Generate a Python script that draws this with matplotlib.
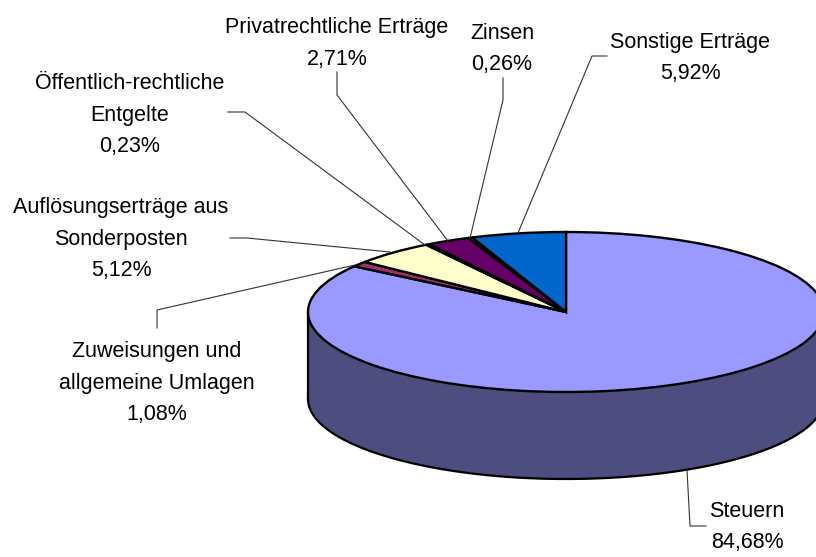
import numpy as np
import matplotlib
matplotlib.use("Agg")
import matplotlib.pyplot as plt

categories = ["Steuern", "Zuweisungen und\nallgemeine Umlagen", "Auflösungserträge aus\nSonderposten",
              "Öffentlich-rechtliche\nEntgelte", "Privatrechtliche Erträge", "Zinsen", "Sonstige Erträge"]
values = [84.68, 1.08, 5.12, 0.23, 2.71, 0.26, 5.92]
value_labels = ["84,68%", "1,08%", "5,12%", "0,23%", "2,71%", "0,26%", "5,92%"]
colors = ["#9999FF", "#993366", "#FFFFCC", "#CCFFFF", "#660066", "#FF8080", "#0066CC"]
side_color = "#4D4D80"

W, H = 816, 557
CX, CY, RX, RY, DEPTH = 566, 312, 258, 80, 87

plt.rcParams["font.family"] = ["Liberation Sans", "DejaVu Sans"]
fig = plt.figure(figsize=(W / 100, H / 100), dpi=100)
ax = fig.add_axes([0, 0, 1, 1])

d = DEPTH / RY
t = np.linspace(-1, 1, 721)
xs = np.sin(t * np.pi / 2)
low = -np.sqrt(np.clip(1 - xs ** 2, 0, 1))
ax.fill_between(xs, low, low - d, color=side_color, lw=0, zorder=1)
ax.plot(xs, low - d, color="black", lw=1.6, zorder=2)
ax.plot([-1, -1], [0, -d], color="black", lw=1.6, zorder=2)
ax.plot([1, 1], [0, -d], color="black", lw=1.6, zorder=2)

wedges, _ = ax.pie(values, colors=colors, startangle=90, counterclock=False, radius=1,
                   center=(0, 0), frame=True,
                   wedgeprops=dict(edgecolor="black", linewidth=1.7, zorder=3))
ax.set_aspect("auto")
ax.set_xlim((0 - CX) / RX, (W - CX) / RX)
ax.set_ylim((CY - H) / RY, CY / RY)
ax.axis("off")

def fx(p): return p / W
def fy(p): return 1 - p / H

# pixel layout of leader lines and label centres, same order as categories
leaders = [
    [(687, 470), (690, 526), (706, 526)],
    [(355, 265), (157, 310), (157, 328)],
    [(390, 252), (247, 238), (230, 238)],
    [(425, 245), (245, 112), (228, 112)],
    [(448, 241), (337, 95), (337, 72)],
    [(470, 238), (503, 100), (503, 78)],
    [(518, 233), (592, 56), (607, 56)],
]
label_pos = [(747, 527), (157, 383), (121, 239), (130, 115), (337, 43.5), (502, 49), (690, 58)]

for pts in leaders:
    fig.add_artist(plt.Line2D([fx(p[0]) for p in pts], [fy(p[1]) for p in pts],
                              color="#333333", lw=0.8, transform=fig.transFigure, zorder=5))

for cat, val, (x, y) in zip(categories, value_labels, label_pos):
    fig.text(fx(x), fy(y), f"{cat}\n{val}", ha="center", va="center", fontsize=15.5,
             linespacing=1.66, color="black")

fig.savefig("out.png", dpi=100)
